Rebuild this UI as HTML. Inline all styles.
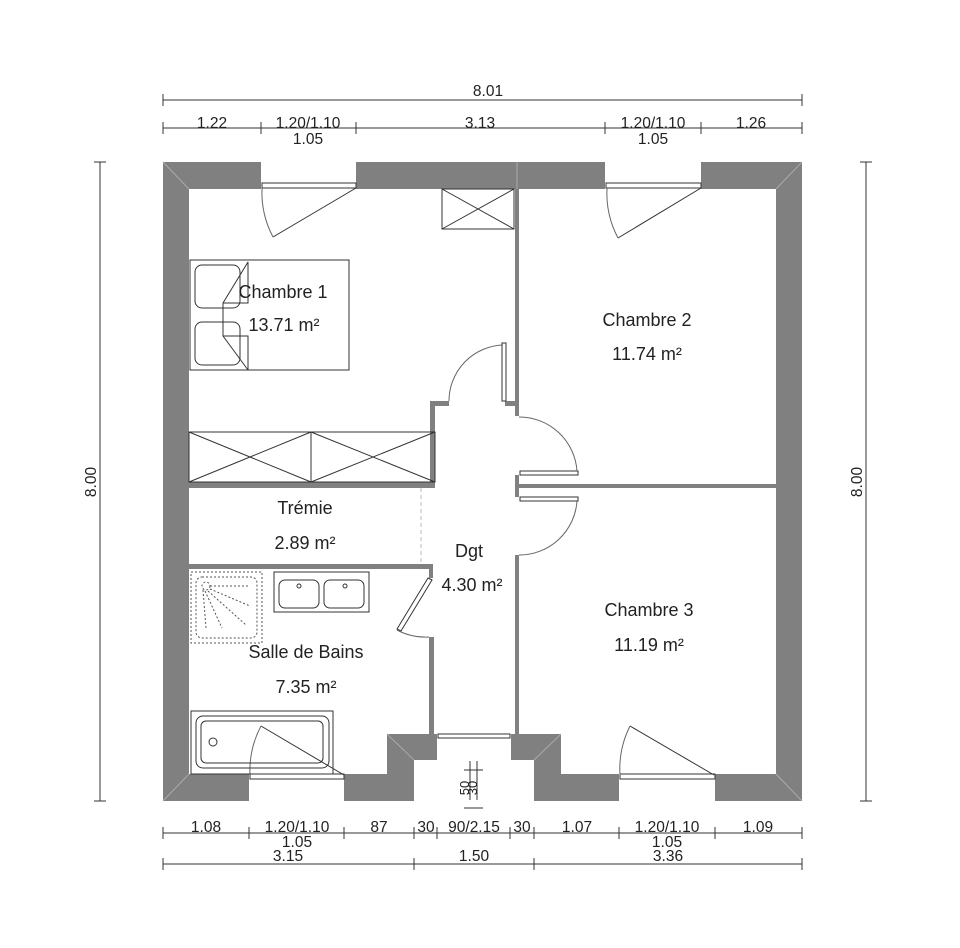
<!DOCTYPE html>
<html><head><meta charset="utf-8"><style>html,body{margin:0;padding:0;background:#fff}svg{display:block}text{font-family:"Liberation Sans",sans-serif;fill:#222}</style></head><body>
<svg width="960" height="948" viewBox="0 0 960 948" xmlns="http://www.w3.org/2000/svg">
<g fill="#808080">
<rect x="163" y="162" width="98" height="27"/>
<rect x="356" y="162" width="249" height="27"/>
<rect x="701" y="162" width="101" height="27"/>
<rect x="163" y="162" width="26" height="639"/>
<rect x="776" y="162" width="26" height="639"/>
<rect x="163" y="774" width="86" height="27"/>
<rect x="344" y="774" width="43" height="27"/>
<rect x="387" y="734" width="50" height="26"/>
<rect x="387" y="734" width="27" height="67"/>
<rect x="511" y="734" width="50" height="26"/>
<rect x="534" y="734" width="27" height="67"/>
<rect x="561" y="774" width="58" height="27"/>
<rect x="715" y="774" width="87" height="27"/>
<rect x="515" y="189" width="4" height="227"/>
<rect x="515" y="475" width="4" height="22"/>
<rect x="515" y="555" width="4" height="180"/>
<rect x="517" y="484" width="259" height="4"/>
<rect x="430" y="401" width="5" height="87"/>
<rect x="430" y="401" width="19" height="5"/>
<rect x="505" y="401" width="14" height="5"/>
<rect x="189" y="482" width="246" height="6"/>
<rect x="189" y="564" width="244" height="5"/>
<rect x="429" y="564" width="4" height="14"/>
<rect x="429" y="637" width="5" height="98"/>
<rect x="430" y="734" width="7" height="26"/>
<rect x="511" y="734" width="7" height="26"/>
</g>
<g stroke="#aaa" stroke-width="1" fill="none">
<line x1="163" y1="162" x2="189" y2="189"/><line x1="802" y1="162" x2="776" y2="189"/>
<line x1="163" y1="801" x2="189" y2="774"/><line x1="802" y1="801" x2="776" y2="774"/>
<line x1="517" y1="162" x2="517" y2="189"/>
<line x1="387" y1="734" x2="414" y2="760"/><line x1="561" y1="734" x2="534" y2="760"/>
</g>
<g stroke="#333" stroke-width="1" fill="none">
<rect x="262" y="183" width="94" height="5" fill="#fff"/>
<rect x="606" y="183" width="95" height="5" fill="#fff"/>
<rect x="250" y="774" width="94" height="5" fill="#fff"/>
<rect x="620" y="774" width="95" height="5" fill="#fff"/>
<rect x="438" y="734" width="72" height="4" fill="#fff"/>
<line x1="356" y1="188" x2="273" y2="237"/><path d="M262 188 A96 96 0 0 0 273 237" stroke="#666"/>
<line x1="701" y1="188" x2="618" y2="238"/><path d="M607 188 A96 96 0 0 0 618 238" stroke="#666"/>
<line x1="344" y1="775" x2="261" y2="726"/><path d="M250 775 A96 96 0 0 1 261 726" stroke="#666"/>
<line x1="714" y1="775" x2="630" y2="726"/><path d="M620 775 A96 96 0 0 1 630 726" stroke="#666"/>
<rect x="502" y="343" width="4" height="58" fill="#fff"/><path d="M449 401 A56 56 0 0 1 503 345" stroke="#666"/>
<rect x="520" y="471" width="58" height="4" fill="#fff"/><path d="M519 417 A58 58 0 0 1 577 471" stroke="#666"/>
<rect x="520" y="497" width="58" height="4" fill="#fff"/><path d="M519 555 A58 58 0 0 0 577 501" stroke="#666"/>
<polygon points="428,578 432,580 401,631 397,629" fill="#fff"/><path d="M397 630 A60 60 0 0 0 429 637" stroke="#666"/>
<rect x="442" y="189" width="72" height="40"/><line x1="442" y1="189" x2="514" y2="229"/><line x1="514" y1="189" x2="442" y2="229"/>
<rect x="189" y="432" width="246" height="50"/><line x1="311" y1="432" x2="311" y2="482"/>
<line x1="189" y1="432" x2="311" y2="482"/><line x1="311" y1="432" x2="189" y2="482"/>
<line x1="311" y1="432" x2="435" y2="482"/><line x1="435" y1="432" x2="311" y2="482"/>
<rect x="190" y="260" width="159" height="110"/>
<rect x="195" y="265" width="45" height="43" rx="7"/><rect x="195" y="322" width="45" height="43" rx="7"/>
<polyline points="248,262 223,303 223,336 248,370"/>
<polyline points="248,262 248,303 223,303"/>
<polyline points="248,370 248,336 223,336"/>
<rect x="274" y="572" width="95" height="40"/>
<rect x="279" y="580" width="40" height="28" rx="6"/><rect x="324" y="580" width="40" height="28" rx="6"/>
<circle cx="299" cy="586" r="2"/><circle cx="345" cy="586" r="2"/>
<rect x="191" y="711" width="142" height="63"/>
<rect x="196" y="716" width="133" height="52" rx="7"/>
<rect x="201" y="721" width="122" height="42" rx="5"/>
<circle cx="213" cy="742" r="4"/>
</g>
<g stroke="#555" stroke-width="1" fill="none" stroke-dasharray="2,2">
<rect x="191" y="572" width="71" height="71"/>
<rect x="196" y="577" width="61" height="61" rx="6"/>
<circle cx="206" cy="586" r="4"/>
<line x1="210" y1="586" x2="250" y2="586"/><line x1="210" y1="589" x2="250" y2="606"/><line x1="208" y1="591" x2="246" y2="625"/>
<line x1="205" y1="591" x2="222" y2="628"/><line x1="203" y1="590" x2="206" y2="628"/>
<line x1="421" y1="488" x2="421" y2="564" stroke="#bbb" stroke-dasharray="4,3"/>
</g>
<g stroke="#333" stroke-width="1">
<line x1="163" y1="100" x2="802" y2="100"/><line x1="163" y1="94" x2="163" y2="106"/><line x1="802" y1="94" x2="802" y2="106"/>
<line x1="163" y1="128" x2="802" y2="128"/>
<line x1="163" y1="122" x2="163" y2="134"/><line x1="261" y1="122" x2="261" y2="134"/><line x1="356" y1="122" x2="356" y2="134"/><line x1="605" y1="122" x2="605" y2="134"/><line x1="701" y1="122" x2="701" y2="134"/><line x1="802" y1="122" x2="802" y2="134"/>
<line x1="100" y1="162" x2="100" y2="801"/><line x1="94" y1="162" x2="106" y2="162"/><line x1="94" y1="801" x2="106" y2="801"/>
<line x1="866" y1="162" x2="866" y2="801"/><line x1="860" y1="162" x2="872" y2="162"/><line x1="860" y1="801" x2="872" y2="801"/>
<line x1="163" y1="833" x2="802" y2="833"/>
<line x1="163" y1="827" x2="163" y2="839"/><line x1="249" y1="827" x2="249" y2="839"/><line x1="344" y1="827" x2="344" y2="839"/><line x1="414" y1="827" x2="414" y2="839"/><line x1="437" y1="827" x2="437" y2="839"/><line x1="510" y1="827" x2="510" y2="839"/><line x1="534" y1="827" x2="534" y2="839"/><line x1="619" y1="827" x2="619" y2="839"/><line x1="715" y1="827" x2="715" y2="839"/><line x1="802" y1="827" x2="802" y2="839"/>
<line x1="163" y1="864" x2="802" y2="864"/>
<line x1="163" y1="858" x2="163" y2="870"/><line x1="414" y1="858" x2="414" y2="870"/><line x1="534" y1="858" x2="534" y2="870"/><line x1="802" y1="858" x2="802" y2="870"/>
<line x1="470" y1="761" x2="470" y2="800"/><line x1="477" y1="761" x2="477" y2="800"/><line x1="464" y1="770" x2="483" y2="770"/><line x1="464" y1="808" x2="483" y2="808"/>
</g>
<g font-size="15.5" text-anchor="middle">
<text x="488" y="96">8.01</text>
<text x="212" y="128">1.22</text><text x="308" y="128">1.20/1.10</text><text x="308" y="144">1.05</text>
<text x="480" y="128">3.13</text><text x="653" y="128">1.20/1.10</text><text x="653" y="144">1.05</text><text x="751" y="128">1.26</text>
<text transform="translate(96,482) rotate(-90)">8.00</text>
<text transform="translate(862,482) rotate(-90)">8.00</text>
<text x="206" y="832">1.08</text><text x="297" y="832">1.20/1.10</text><text x="297" y="847">1.05</text>
<text x="379" y="832">87</text><text x="426" y="832">30</text><text x="474" y="832">90/2.15</text><text x="522" y="832">30</text>
<text x="577" y="832">1.07</text><text x="667" y="832">1.20/1.10</text><text x="667" y="847">1.05</text><text x="758" y="832">1.09</text>
<text x="288" y="861">3.15</text><text x="474" y="861">1.50</text><text x="668" y="861">3.36</text>
<text transform="translate(469,788) rotate(-90)" font-size="13">50</text>
<text transform="translate(477,788) rotate(-90)" font-size="13">30</text>
</g>
<g font-size="18" text-anchor="middle">
<text x="283" y="298">Chambre 1</text><text x="284" y="331">13.71 m²</text>
<text x="647" y="326">Chambre 2</text><text x="647" y="360">11.74 m²</text>
<text x="649" y="616">Chambre 3</text><text x="649" y="651">11.19 m²</text>
<text x="305" y="514">Trémie</text><text x="305" y="549">2.89 m²</text>
<text x="469" y="557">Dgt</text><text x="472" y="591">4.30 m²</text>
<text x="306" y="658">Salle de Bains</text><text x="306" y="693">7.35 m²</text>
</g>
</svg>
</body></html>
